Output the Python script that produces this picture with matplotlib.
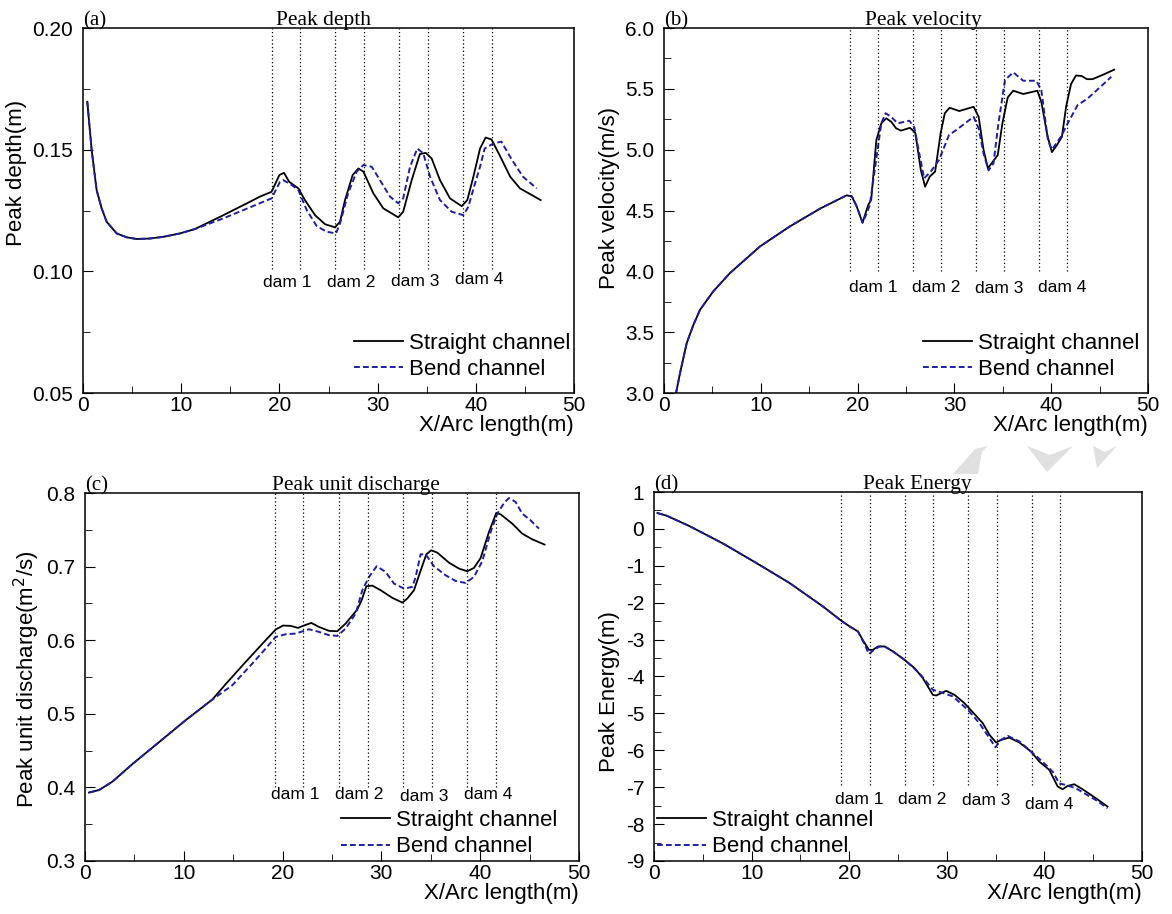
import matplotlib
matplotlib.use('Agg')
import matplotlib.pyplot as plt
from matplotlib.patches import Polygon
from matplotlib.ticker import MultipleLocator, FormatStrFormatter

plt.rcParams['font.family'] = 'Liberation Sans'
plt.rcParams['axes.unicode_minus'] = False

# dam crest positions along the channel (m)
dam_x = [19.2, 22.1, 25.7, 28.6, 32.2, 35.1, 38.7, 41.6]
dam_names = ['dam 1', 'dam 2', 'dam 3', 'dam 4']

# (a) peak depth
depth_x_straight = [0.44, 0.88, 1.39, 1.9, 2.41, 3.43, 4.45, 5.47, 6.82, 8.18, 9.88, 11.4,
                    14.3, 17.0, 18.0, 19.2, 20.0, 20.47, 21.0, 21.93, 22.6, 23.63, 24.64,
                    25.66, 26.17, 26.68, 27.46, 28.04, 28.55, 29.56, 30.58, 32.1, 32.6,
                    33.47, 34.3, 34.9, 35.5, 36.35, 37.37, 38.56, 39.13, 39.75, 40.43,
                    41.0, 41.6, 42.5, 43.5, 44.5, 46.6]
depth_straight = [0.1697, 0.150, 0.1334, 0.1259, 0.1204, 0.1156, 0.114, 0.1133, 0.1135,
                  0.1142, 0.1156, 0.1174, 0.1231, 0.1286, 0.1307, 0.1327, 0.1396, 0.1405,
                  0.1368, 0.1341, 0.1293, 0.1231, 0.1194, 0.1181, 0.1204, 0.1293, 0.1396,
                  0.1423, 0.141, 0.1321, 0.1259, 0.1222, 0.1245, 0.1375, 0.1482, 0.1487,
                  0.1464, 0.1375, 0.13, 0.1268, 0.1293, 0.1389, 0.1505, 0.155, 0.1542,
                  0.1471, 0.1389, 0.1341, 0.1293]
depth_x_bend = [0.44, 0.88, 1.39, 1.9, 2.41, 3.43, 4.45, 5.47, 6.82, 8.18, 9.88, 11.4,
                14.3, 17.0, 18.0, 19.2, 20.06, 20.4, 21.25, 21.93, 22.78, 23.8, 24.8,
                25.76, 26.17, 27.0, 27.87, 28.55, 29.4, 30.24, 31.26, 32.1, 32.6, 33.3,
                34.04, 34.65, 35.34, 36.35, 37.54, 38.73, 39.24, 39.92, 40.43, 40.9,
                41.8, 42.6, 43.7, 44.8, 46.2]
depth_bend = [0.1697, 0.150, 0.1334, 0.1259, 0.1204, 0.1156, 0.114, 0.1133, 0.1135,
              0.1142, 0.1156, 0.1174, 0.1218, 0.1263, 0.128, 0.130, 0.1368, 0.1375,
              0.1355, 0.1334, 0.1252, 0.1186, 0.1163, 0.1156, 0.1197, 0.1321, 0.141,
              0.1437, 0.143, 0.1375, 0.1307, 0.128, 0.130, 0.143, 0.1505, 0.1485,
              0.1389, 0.1293, 0.1245, 0.1231, 0.1266, 0.1362, 0.143, 0.1505, 0.1526,
              0.1533, 0.1457, 0.1389, 0.1341]

# (b) peak velocity
vel_x_straight = [1.24, 1.65, 2.34, 3.03, 3.72, 5.09, 6.81, 9.91, 13.0, 16.1, 18.86, 19.4,
                  19.9, 20.5, 21.1, 21.4, 21.93, 22.44, 22.95, 23.46, 23.97, 24.48, 25.4,
                  25.95, 26.53, 26.97, 27.45, 28.0, 28.57, 29.0, 29.5, 30.5, 31.98, 32.5,
                  33.0, 33.45, 34.47, 34.95, 35.5, 36.07, 37.1, 38.56, 38.97, 39.59,
                  40.06, 40.6, 41.1, 41.53, 42.04, 42.55, 43.13, 43.68, 44.26, 45.45, 46.5]
vel_straight = [3.0, 3.164, 3.41, 3.56, 3.685, 3.836, 3.986, 4.205, 4.37, 4.515, 4.625,
                4.616, 4.534, 4.40, 4.548, 4.589, 5.08, 5.217, 5.258, 5.23, 5.176, 5.157,
                5.18, 5.14, 4.83, 4.696, 4.78, 4.82, 5.135, 5.30, 5.345, 5.318, 5.353,
                5.27, 5.0, 4.847, 4.956, 5.217, 5.43, 5.485, 5.458, 5.485, 5.394, 5.12,
                4.98, 5.04, 5.107, 5.353, 5.54, 5.61, 5.606, 5.58, 5.58, 5.62, 5.658]
vel_x_bend = [1.24, 1.65, 2.34, 3.03, 3.72, 5.09, 6.81, 9.91, 13.0, 16.1, 18.86, 19.4,
              19.9, 20.5, 20.9, 21.25, 21.86, 22.44, 22.88, 23.46, 24.14, 25.34, 25.85,
              26.36, 26.87, 27.55, 28.4, 29.43, 30.28, 31.3, 31.98, 32.5, 33.0, 33.52,
              34.03, 34.54, 35.22, 36.07, 37.1, 38.46, 38.97, 39.65, 40.06, 41.0, 41.7,
              42.72, 43.74, 45.1, 46.2]
vel_bend = [3.0, 3.164, 3.41, 3.56, 3.685, 3.836, 3.986, 4.205, 4.37, 4.515, 4.625, 4.616,
            4.534, 4.40, 4.47, 4.545, 4.888, 5.217, 5.30, 5.27, 5.217, 5.238, 5.184,
            4.97, 4.765, 4.82, 4.915, 5.12, 5.167, 5.23, 5.27, 5.176, 4.97, 4.83, 4.888,
            5.217, 5.573, 5.636, 5.567, 5.567, 5.49, 5.08, 5.0, 5.107, 5.217, 5.367,
            5.42, 5.518, 5.6]

# (c) peak unit discharge
q_x_straight = [0.41, 1.42, 2.77, 4.8, 7.5, 10.2, 12.9, 14.24, 16.27, 18.29, 19.3, 20.04,
                20.82, 21.56, 22.07, 22.91, 23.69, 24.7, 25.54, 26.38, 27.56, 28.0, 28.48,
                29.08, 29.93, 31.11, 32.12, 32.62, 33.3, 33.87, 34.55, 35.05, 35.66,
                36.84, 37.85, 38.7, 39.37, 40.05, 40.89, 41.63, 42.07, 43.25, 44.26,
                45.27, 46.52]
q_straight = [0.393, 0.3964, 0.4077, 0.4317, 0.4615, 0.4914, 0.5195, 0.5403, 0.5706, 0.60,
              0.6145, 0.6199, 0.6195, 0.6167, 0.6195, 0.6235, 0.618, 0.6127, 0.6122,
              0.6226, 0.6416, 0.6543, 0.6733, 0.6742, 0.6679, 0.6575, 0.6511, 0.6566,
              0.6679, 0.6905, 0.7167, 0.7222, 0.719, 0.7054, 0.6973, 0.6937, 0.6982,
              0.7118, 0.747, 0.7729, 0.771, 0.7584, 0.7448, 0.7371, 0.7299]
q_x_bend = [0.41, 1.42, 2.77, 4.8, 7.5, 10.2, 12.9, 14.92, 16.94, 18.29, 19.3, 20.31,
            21.32, 22.67, 23.69, 24.7, 25.54, 26.38, 27.4, 28.07, 28.75, 29.52, 30.43,
            31.28, 32.29, 33.13, 33.47, 33.97, 34.48, 35.32, 36.5, 37.52, 38.53, 39.37,
            40.21, 41.06, 41.73, 42.41, 42.91, 43.59, 44.26, 45.1, 45.95]
q_bend = [0.393, 0.3964, 0.4077, 0.4317, 0.4615, 0.4914, 0.5195, 0.5389, 0.5683, 0.5887,
          0.6045, 0.6081, 0.609, 0.6149, 0.6113, 0.6068, 0.6059, 0.6158, 0.6362, 0.6679,
          0.686, 0.7005, 0.6928, 0.6769, 0.6701, 0.6724, 0.686, 0.7167, 0.7167, 0.7005,
          0.6882, 0.6805, 0.6778, 0.686, 0.7072, 0.747, 0.7719, 0.7864, 0.7932, 0.7878,
          0.7719, 0.7629, 0.7516]

# (d) peak energy
e_x_straight = [0.35, 1.3, 3.69, 7.1, 10.5, 13.9, 17.3, 19.2, 20.05, 20.9, 21.48, 22.03,
                22.44, 22.95, 23.63, 24.48, 25.68, 26.7, 27.55, 28.06, 28.57, 28.92, 29.43,
                29.94, 30.79, 31.81, 32.84, 33.69, 34.37, 35.05, 35.56, 36.41, 37.44,
                38.63, 39.48, 40.5, 41.36, 41.87, 42.38, 43.06, 43.91, 45.28, 46.47]
e_straight = [0.43, 0.358, 0.069, -0.40, -0.926, -1.468, -2.10, -2.49, -2.644, -2.78,
              -3.05, -3.277, -3.277, -3.186, -3.186, -3.32, -3.55, -3.774, -4.045, -4.27,
              -4.497, -4.515, -4.45, -4.389, -4.497, -4.723, -5.02, -5.266, -5.58, -5.79,
              -5.718, -5.655, -5.79, -6.034, -6.306, -6.53, -6.98, -7.056, -6.966, -6.92,
              -7.056, -7.30, -7.526]
e_x_bend = [0.35, 1.3, 3.69, 7.1, 10.5, 13.9, 17.3, 19.2, 20.05, 20.9, 21.59, 22.03,
            22.44, 23.12, 23.63, 24.48, 25.68, 27.2, 28.57, 29.43, 30.62, 32.15, 33.35,
            34.37, 34.98, 35.56, 36.25, 37.44, 38.63, 39.8, 40.85, 41.53, 42.2, 43.23,
            45.28, 46.47]
e_bend = [0.43, 0.358, 0.069, -0.40, -0.926, -1.468, -2.10, -2.49, -2.644, -2.78, -3.14,
          -3.394, -3.295, -3.186, -3.186, -3.32, -3.55, -3.91, -4.36, -4.43, -4.54, -4.9,
          -5.27, -5.67, -5.917, -5.718, -5.61, -5.76, -6.034, -6.306, -6.58, -6.90, -6.94,
          -7.03, -7.35, -7.57]

BLUE = '#1f1fa6'
W, H = 1172, 914


def draw_panel(rect, letter, title, title_x, ylabel, ylabel_y, ylabel_x,
               xs, ys, xb, yb, ylim, ymajor, yminor, yfmt,
               dam_bottom, dam_label_y, dam_label_dx, leg_loc, leg_anchor):
    ax = fig.add_axes(rect)
    ax.plot(xs, ys, color='black', lw=1.3, label='Straight channel')
    ax.plot(xb, yb, color=BLUE, lw=1.4, linestyle=(0, (3, 1.6)), label='Bend channel')

    for d in dam_x:
        ax.axvline(d, ymin=(dam_bottom - ylim[0]) / (ylim[1] - ylim[0]), ymax=1,
                   color='black', lw=0.9, linestyle=(0, (1, 2)))
    for i, name in enumerate(dam_names):
        ax.text(dam_x[2 * i] + dam_label_dx, dam_label_y[i], name, fontsize=12.5,
                ha='center', va='center')

    ax.set_xlim(0, 50)
    ax.set_ylim(*ylim)
    ax.xaxis.set_major_locator(MultipleLocator(10))
    ax.xaxis.set_minor_locator(MultipleLocator(5))
    ax.yaxis.set_major_locator(MultipleLocator(ymajor))
    ax.yaxis.set_minor_locator(MultipleLocator(yminor))
    ax.yaxis.set_major_formatter(FormatStrFormatter(yfmt))
    ax.tick_params(which='both', direction='in', top=False, right=False, labelsize=15)
    ax.tick_params(axis='x', which='major', length=7, pad=2)
    ax.tick_params(axis='y', which='major', length=7, pad=7)
    ax.tick_params(which='minor', length=5)
    for sp in ax.spines.values():
        sp.set_linewidth(1.1)

    ax.set_xlabel('X/Arc length(m)', fontsize=16, loc='right', labelpad=0)
    ax.set_ylabel(ylabel, fontsize=16)
    ax.yaxis.set_label_coords(ylabel_x, ylabel_y)

    ax.text(0.0, 1.008, letter, transform=ax.transAxes, fontsize=15,
            family='Liberation Serif', ha='left', va='baseline')
    ax.text(title_x, 1.008, title, transform=ax.transAxes, fontsize=15.5,
            family='Liberation Serif', ha='center', va='baseline')

    ax.legend(loc=leg_loc, bbox_to_anchor=leg_anchor, frameon=False, fontsize=16,
              handlelength=2.2, handletextpad=0.3, labelspacing=0.25,
              borderpad=0, borderaxespad=0)
    return ax


fig = plt.figure(figsize=(W / 100, H / 100), dpi=100)

draw_panel([0.0708, 0.570, 0.419, 0.3993], '(a)', 'Peak depth', 0.49,
           'Peak depth(m)', 0.603, -0.114,
           depth_x_straight, depth_straight, depth_x_bend, depth_bend,
           (0.05, 0.20), 0.05, 0.025, '%.2f',
           0.101, [0.0955, 0.0955, 0.096, 0.0965], 1.6,
           'lower right', (0.993, 0.035))

draw_panel([0.5666, 0.570, 0.413, 0.3993], '(b)', 'Peak velocity', 0.535,
           'Peak velocity(m/s)', 0.534, -0.091,
           vel_x_straight, vel_straight, vel_x_bend, vel_bend,
           (3.0, 6.0), 0.5, 0.25, '%.1f',
           4.0, [3.87, 3.87, 3.86, 3.87], 2.4,
           'lower right', (0.983, 0.035))

draw_panel([0.0725, 0.058, 0.4215, 0.4026], '(c)', 'Peak unit discharge', 0.549,
           'Peak unit discharge(m$^2$/s)', 0.495, -0.087,
           q_x_straight, q_straight, q_x_bend, q_bend,
           (0.3, 0.8), 0.1, 0.05, '%.1f',
           0.4, [0.39, 0.39, 0.387, 0.39], 2.1,
           'lower right', (0.957, 0.01))

draw_panel([0.558, 0.058, 0.4164, 0.4037], '(d)', 'Peak Energy', 0.539,
           'Peak Energy(m)', 0.46, -0.07,
           e_x_straight, e_straight, e_x_bend, e_bend,
           (-9, 1), 1, 0.5, '%d',
           -6.94, [-7.33, -7.33, -7.37, -7.48], 1.8,
           'lower left', (0.006, 0.01))

# faint publisher watermark between the right-hand panels (pixel outlines)
watermark = [
    [(953, 474), (968, 457), (975, 449), (988, 446), (982, 452), (978, 474)],
    [(1027, 446), (1050, 455), (1073, 446), (1047, 472)],
    [(1093, 446), (1105, 452), (1117, 446), (1097, 468)],
]
for shape in watermark:
    pts = [(px / W, 1 - py / H) for px, py in shape]
    fig.add_artist(Polygon(pts, closed=True, transform=fig.transFigure,
                           facecolor='#e0e0e0', edgecolor='none', zorder=0))

fig.savefig('out.png', dpi=100)
